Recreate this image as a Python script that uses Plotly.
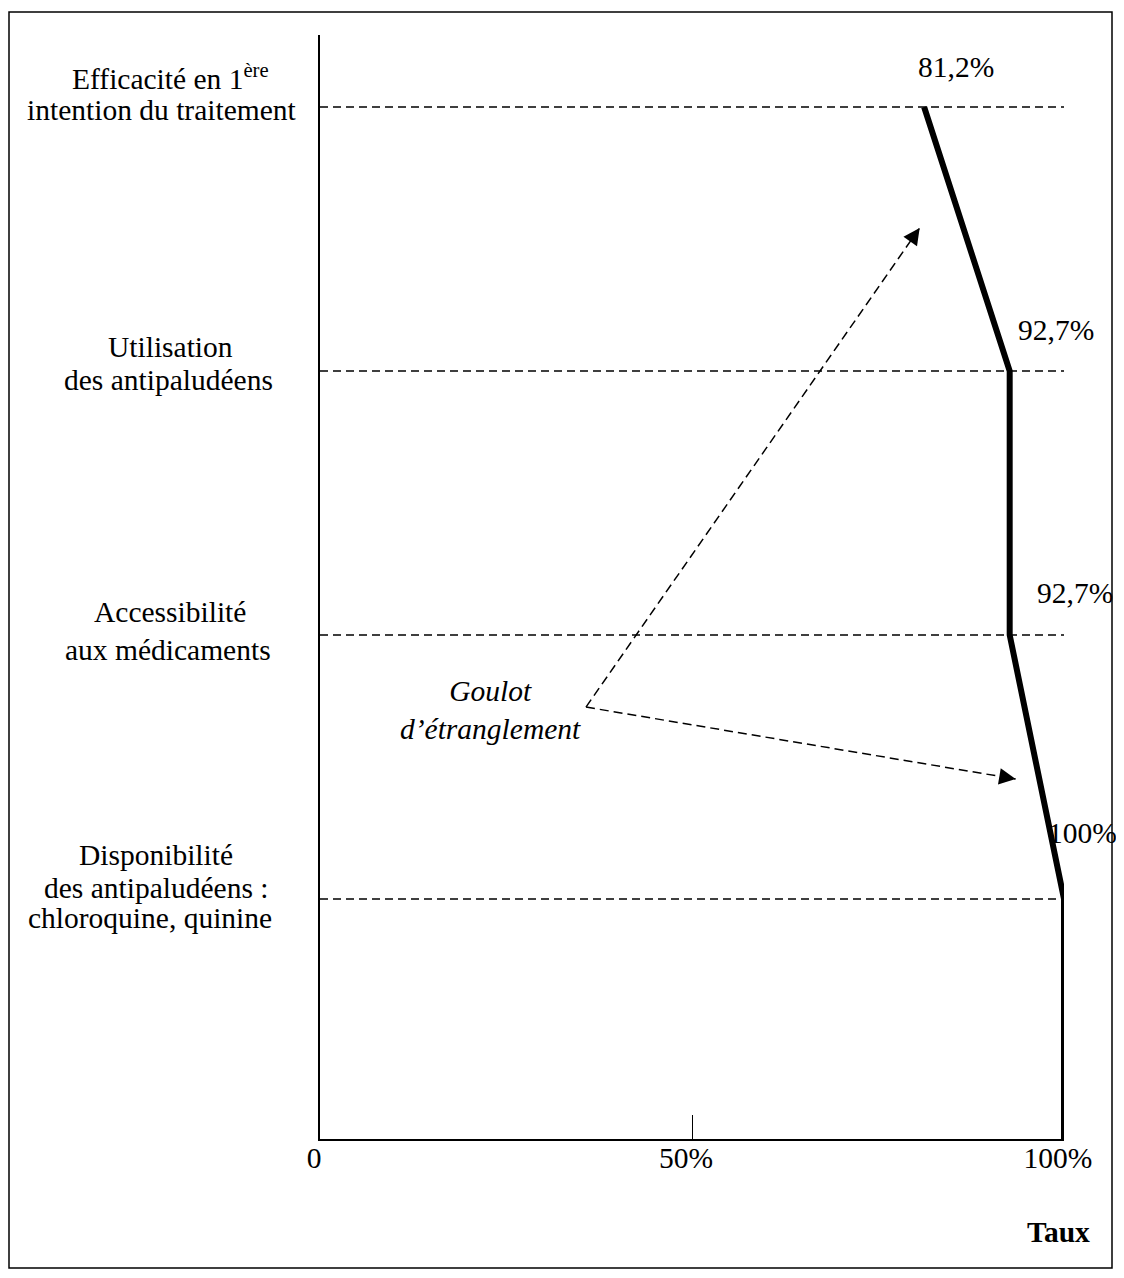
import plotly.graph_objects as go

# ---- data ----
category_lines = [
    ["Efficacité en 1<sup>ère</sup>", "intention du traitement"],
    ["Utilisation", "des antipaludéens"],
    ["Accessibilité", "aux médicaments"],
    ["Disponibilité", "des antipaludéens :", "chloroquine, quinine"],
]
levels = [4, 3, 2, 1]
rates = [81.2, 92.7, 92.7, 100.0]
rate_labels = ["81,2%", "92,7%", "92,7%", "100%"]
x_ticks = [0, 50, 100]
x_tick_labels = ["0", "50%", "100%"]
axis_title = "Taux"
note_text = "Goulot<br>d’étranglement"
# arrow geometry (data units): common tail and two tips
arrow_tail = (35.75, 1.727)
arrow_tips = [(80.6, 3.542), (93.5, 1.4545)]

# ---- layout constants (target page pixels; the page body adds an 8px offset) ----
OFF = 8
W, H = 1108, 1262
PLOT_L, PLOT_R, PLOT_T, PLOT_B = 320, 1064, 35, 1139   # page pixels
ML = PLOT_L - OFF
MR = W - (PLOT_R - OFF)
MT = PLOT_T - OFF
MB = H - (PLOT_B - OFF)
Y_MIN, Y_MAX = 0.0909, 4.2727
FONT = "Liberation Serif, Times New Roman, serif"
FS = 29.5

plot_w = W - ML - MR
plot_h = H - MT - MB


def px_to_paper_x(px):
    return (px - PLOT_L) / plot_w


def px_to_paper_y(py):
    return (PLOT_B - py) / plot_h


# label positions: pixel offsets from the data point
rate_label_shift = [(32, 40), (46, 41), (65, 42), (18, 66)]
# category label line vertical offsets (pixels, positive = downward)
cat_line_offsets = [[-30, 3], [-24, 9], [-23, 15], [-44, -11, 19]]
cat_line_x = [[170, 162], [170, 168], [170, 168], [156, 156, 150]]

fig = go.Figure()

# main bottleneck line
fig.add_trace(go.Scatter(
    x=rates + [rates[-1]],
    y=levels + [Y_MIN],
    mode="lines",
    line=dict(color="black", width=6),
    hoverinfo="skip",
))

# dashed arrow shafts
for tip in arrow_tips:
    fig.add_trace(go.Scatter(
        x=[arrow_tail[0], tip[0]],
        y=[arrow_tail[1], tip[1]],
        mode="lines",
        line=dict(color="black", width=1.5, dash="9px,5px"),
        hoverinfo="skip",
    ))

shapes = []
# horizontal dashed reference lines
for lv in levels:
    shapes.append(dict(type="line", xref="x", yref="y", x0=0, x1=100, y0=lv, y1=lv,
                       line=dict(color="black", width=1.4, dash="8px,5px")))
# outer frame
shapes.append(dict(type="rect", xref="paper", yref="paper",
                   x0=px_to_paper_x(9), x1=px_to_paper_x(1112),
                   y0=px_to_paper_y(1268), y1=px_to_paper_y(12),
                   line=dict(color="black", width=1.5)))

annotations = []
# value labels
for r, lv, lab, (dx, dy) in zip(rates, levels, rate_labels, rate_label_shift):
    annotations.append(dict(x=r, y=lv, xref="x", yref="y", text=lab, showarrow=False,
                            xshift=dx, yshift=dy, xanchor="center", yanchor="middle",
                            font=dict(family=FONT, size=FS, color="black")))
# category labels
for lines, lv, offs, xs in zip(category_lines, levels, cat_line_offsets, cat_line_x):
    for ln, off, xp in zip(lines, offs, xs):
        annotations.append(dict(x=px_to_paper_x(xp), xref="paper", y=lv, yref="y",
                                text=ln, showarrow=False, yshift=-off,
                                xanchor="center", yanchor="middle",
                                font=dict(family=FONT, size=FS, color="black")))
# arrowheads
for tip in arrow_tips:
    back = 0.03
    annotations.append(dict(x=tip[0], y=tip[1], xref="x", yref="y",
                            ax=tip[0] + back * (arrow_tail[0] - tip[0]),
                            ay=tip[1] + back * (arrow_tail[1] - tip[1]),
                            axref="x", ayref="y", text="", showarrow=True,
                            arrowhead=2, arrowsize=2.2, arrowwidth=1.5,
                            arrowcolor="black", standoff=0, startstandoff=0))
# note text
annotations.append(dict(x=px_to_paper_x(490), y=px_to_paper_y(710),
                        xref="paper", yref="paper", text="<i>" + note_text + "</i>",
                        showarrow=False, xanchor="center", yanchor="middle",
                        font=dict(family=FONT, size=FS, color="black")))
# axis title
annotations.append(dict(x=px_to_paper_x(1058), y=px_to_paper_y(1232),
                        xref="paper", yref="paper", text="<b>" + axis_title + "</b>",
                        showarrow=False, xanchor="center", yanchor="middle",
                        font=dict(family=FONT, size=FS, color="black")))

fig.update_layout(
    width=W, height=H,
    margin=dict(l=ML, r=MR, t=MT, b=MB, pad=0),
    paper_bgcolor="white", plot_bgcolor="white",
    showlegend=False,
    shapes=shapes,
    annotations=annotations,
    xaxis=dict(range=[0, 100], tickvals=x_ticks, ticktext=x_tick_labels,
               showgrid=False, zeroline=False, showline=True, linecolor="black",
               linewidth=2, ticks="inside", ticklen=24, tickwidth=1, tickcolor="black",
               ticklabelshift=-6, ticklabelstandoff=-8,
               tickfont=dict(family=FONT, size=FS, color="black")),
    yaxis=dict(range=[Y_MIN, Y_MAX], showgrid=False, zeroline=False, showline=True,
               linecolor="black", linewidth=2, showticklabels=False, ticks=""),
)

fig.write_html("out.html")
